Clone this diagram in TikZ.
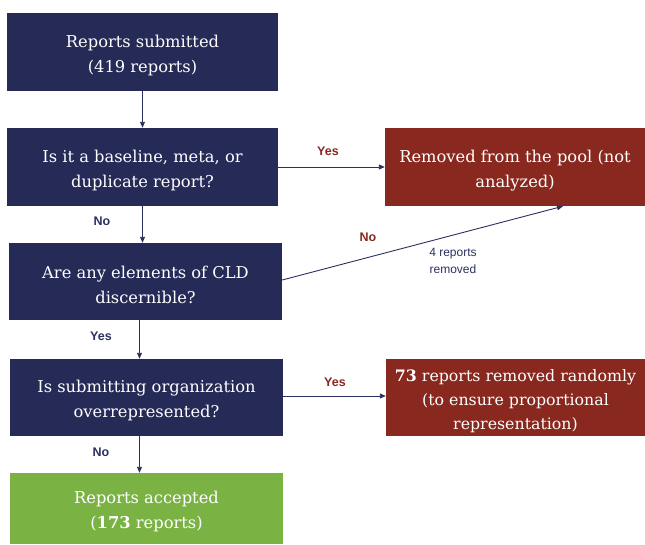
\documentclass[tikz,border=0pt]{standalone}
\usepackage{fontspec}
\setmainfont{DejaVu Serif}
\newfontfamily\lblfont{Liberation Sans}
\usetikzlibrary{arrows.meta}
\definecolor{navy}{HTML}{252A57}
\definecolor{brick}{HTML}{88281E}
\definecolor{leaf}{HTML}{7AB344}
\definecolor{lblnavy}{HTML}{2B305E}
\newcommand\toppad{\rule{0pt}{19pt}}
\begin{document}
\begin{tikzpicture}[x=1pt,y=-1pt,
  box/.style={draw=none,rectangle,text=white,align=center,inner sep=0pt,
    font=\fontsize{16.3}{25}\selectfont},
  nbox/.style={box,fill=navy},
  rbox/.style={box,fill=brick},
  gbox/.style={box,fill=leaf},
  arr/.style={draw=lblnavy,line width=0.9pt,-{Triangle[length=6pt,width=5pt]}},
  lblb/.style={text=lblnavy,font=\lblfont\bfseries\fontsize{12.5}{14}\selectfont},
  lblr/.style={text=brick,font=\lblfont\bfseries\fontsize{12.5}{14}\selectfont},
  note/.style={text=lblnavy,align=center,font=\lblfont\fontsize{12}{17}\selectfont}]
\useasboundingbox (0,0) rectangle (645,544);
\node[nbox,minimum width=271pt,minimum height=78pt] (b1) at (142.5,52) {\toppad Reports submitted\\(419 reports)};
\node[nbox,minimum width=271pt,minimum height=78pt] (b2) at (142.5,167) {\toppad Is it a baseline, meta, or\\duplicate report?};
\node[nbox,minimum width=273pt,minimum height=77pt] (b3) at (145.5,281.5) {\toppad Are any elements of CLD\\discernible?};
\node[nbox,minimum width=273pt,minimum height=77pt] (b4) at (146.5,397.5) {\toppad Is submitting organization\\overrepresented?};
\node[gbox,minimum width=273pt,minimum height=71pt] (b5) at (146.5,508.5) {\toppad Reports accepted\\(\textbf{173} reports)};
\node[rbox,minimum width=260pt,minimum height=78pt] (ra) at (515,167) {\toppad Removed from the pool (not\\analyzed)};
\node[rbox,minimum width=259pt,minimum height=77pt,font=\fontsize{15.8}{24}\selectfont] (rb) at (515.5,397.5) {\toppad\textbf{73} reports removed randomly\\(to ensure proportional\\representation)};
\draw[arr] (b1.south) -- (b2.north);
\draw[arr] (b2.south) -- (b2.south |- b3.north);
\draw[arr] ([xshift=-6pt]b3.south) -- ([xshift=-6pt]b3.south |- b4.north);
\draw[arr] ([xshift=-7pt]b4.south) -- ([xshift=-7pt]b4.south |- b5.north);
\draw[arr] (b2.east) -- (b2.east -| ra.west);
\draw[arr] ([yshift=1.5pt]b3.east) -- ([xshift=48pt]ra.south);
\draw[arr] ([yshift=1.5pt]b4.east) -- ([yshift=1.5pt]b4.east -| rb.west);
\node[lblr] (y1) at (328,151) {Yes};
\node[lblb] (n1) at (102,221) {No};
\node[lblr] (n2) at (368,237) {No};
\node[note] (nt) at (453,261) {4 reports\\removed};
\node[lblb] (y2) at (101,336) {Yes};
\node[lblr] (y3) at (335,382) {Yes};
\node[lblb] (n3) at (101,452) {No};
\end{tikzpicture}
\end{document}
